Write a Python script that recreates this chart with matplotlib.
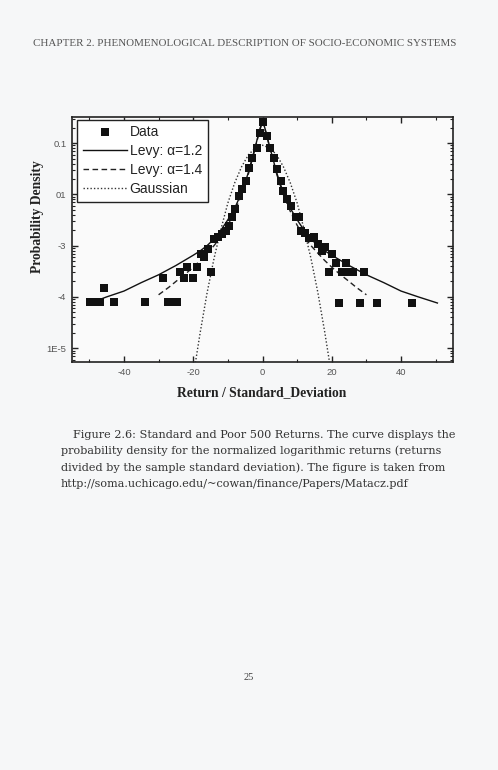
import matplotlib
matplotlib.use("Agg")
import matplotlib.pyplot as plt
from matplotlib.ticker import FixedLocator, MultipleLocator, LogLocator, NullFormatter

# S&P 500 normalized returns
data_x = [-49.9, -48.3, -46.8, -45.8, -42.8, -33.8, -28.8, -27.2, -25.7, -24.6,
          -23.8, -22.8, -21.9, -20.1, -19.0, -17.8, -16.9, -15.7, -14.8, -14.0,
          -12.9, -11.7, -10.6, -9.7, -8.7, -7.8, -6.8, -5.8, -4.8, -3.9,
          -2.9, -1.7, -0.8, 0.2, 1.3, 2.3, 3.3, 4.2, 5.2, 5.9,
          7.1, 8.1, 9.8, 10.5, 11.2, 12.3, 13.3, 15.0, 16.1, 17.2,
          18.1, 19.1, 20.1, 21.1, 22.0, 23.0, 24.2, 24.6, 26.1, 28.2,
          29.2, 33.1, 43.1]
data_y = [7.8e-5, 7.8e-5, 7.8e-5, 1.5e-4, 7.8e-5, 7.8e-5, 2.3e-4, 7.8e-5, 7.8e-5, 7.8e-5,
          3.1e-4, 2.3e-4, 3.9e-4, 2.3e-4, 3.9e-4, 6.9e-4, 5.9e-4, 8.5e-4, 3.0e-4, 1.35e-3,
          1.45e-3, 1.7e-3, 1.95e-3, 2.4e-3, 3.7e-3, 5.1e-3, 9.1e-3, 0.0129, 0.018, 0.033,
          0.051, 0.079, 0.155, 0.257, 0.138, 0.079, 0.052, 0.032, 0.018, 0.0117,
          8.3e-3, 6.0e-3, 3.6e-3, 3.6e-3, 1.95e-3, 1.8e-3, 1.4e-3, 1.5e-3, 1.07e-3, 7.8e-4,
          9.3e-4, 3.0e-4, 6.9e-4, 4.5e-4, 7.6e-5, 3.0e-4, 4.5e-4, 3.0e-4, 3.0e-4, 7.6e-5,
          3.0e-4, 7.6e-5, 7.6e-5]

# fitted curves
levy12_x = [-47, -45, -40, -35, -30, -25, -20, -18, -16, -14, -12, -10, -8, -6, -5,
            -4, -3, -2, -1, 0, 1, 2, 3, 4, 5, 6, 8, 10, 12, 14, 16, 18, 20,
            25, 30, 35, 40, 45, 50.5]
levy12_y = [8.9e-5, 1.0e-4, 1.3e-4, 1.9e-4, 2.7e-4, 4.1e-4, 6.5e-4, 7.9e-4, 1.0e-3,
            1.35e-3, 2.0e-3, 3.2e-3, 5.4e-3, 0.011, 0.017, 0.028, 0.050, 0.089, 0.166,
            0.282, 0.166, 0.089, 0.050, 0.028, 0.017, 0.011, 5.4e-3, 3.2e-3, 2.0e-3,
            1.35e-3, 1.0e-3, 7.9e-4, 6.5e-4, 4.1e-4, 2.7e-4, 1.9e-4, 1.3e-4, 1.0e-4, 7.6e-5]

levy14_x = [-30, -27, -25, -22, -20, -18, -16, -14, -12, -10, -8, -6, -5, -4, -3,
            -2, -1, 0, 1, 2, 3, 4, 5, 6, 8, 10, 12, 14, 16, 18, 20, 22, 25, 27, 30]
levy14_y = [1.1e-4, 1.55e-4, 2.0e-4, 2.9e-4, 3.8e-4, 5.1e-4, 7.1e-4, 1.0e-3, 1.5e-3,
            2.5e-3, 4.7e-3, 0.010, 0.016, 0.026, 0.047, 0.085, 0.158, 0.263,
            0.158, 0.085, 0.047, 0.026, 0.016, 0.010, 4.7e-3, 2.5e-3, 1.5e-3, 1.0e-3,
            7.1e-4, 5.1e-4, 3.8e-4, 2.9e-4, 2.0e-4, 1.55e-4, 1.1e-4]

gauss_x = [-20, -18, -16, -14, -12, -10, -8, -6, -4, -2, 0,
           2, 4, 6, 8, 10, 12, 14, 16, 18, 20]
gauss_y = [2.8e-6, 2.0e-5, 1.2e-4, 5.6e-4, 2.1e-3, 6.8e-3, 0.017, 0.035, 0.060, 0.081, 0.091,
           0.081, 0.060, 0.035, 0.017, 6.8e-3, 2.1e-3, 5.6e-4, 1.2e-4, 2.0e-5, 2.8e-6]

ytick_vals = [0.1, 0.01, 1e-3, 1e-4, 1e-5]
ytick_text = ["0.1", "01", "-3", "-4", "1E-5"]
xtick_vals = [-40, -20, 0, 20, 40]

header = "CHAPTER 2. PHENOMENOLOGICAL DESCRIPTION OF SOCIO-ECONOMIC SYSTEMS"
caption = ["Figure 2.6: Standard and Poor 500 Returns. The curve displays the",
           "probability density for the normalized logarithmic returns (returns",
           "divided by the sample standard deviation). The figure is taken from",
           "http://soma.uchicago.edu/~cowan/finance/Papers/Matacz.pdf"]
page_no = "25"

PAPER = "#f6f7f8"
SERIF = ["Liberation Serif", "DejaVu Serif"]
WIDE_SERIF = ["DejaVu Serif"]
SANS = ["Liberation Sans", "DejaVu Sans"]

plt.rcParams["axes.unicode_minus"] = False


def draw_chart(fig):
    ax = fig.add_axes([72 / 498, 1 - 362 / 770, 381 / 498, 245 / 770])
    ax.set_facecolor("#fafafa")
    ax.set_yscale("log")
    ax.set_xlim(-55, 55)
    ax.set_ylim(10 ** -5.27, 10 ** -0.49)

    ax.plot(gauss_x, gauss_y, color="#333333", lw=1.0, ls=(0, (1, 1.5)), label="Gaussian")
    ax.plot(levy14_x, levy14_y, color="#222222", lw=1.0, ls=(0, (4, 2.5)),
            label="Levy: α=1.4")
    ax.plot(levy12_x, levy12_y, color="#111111", lw=1.0, label="Levy: α=1.2")
    ax.plot(data_x, data_y, ls="none", marker="s", ms=5.6, mew=0, color="#111111",
            label="Data")

    # legend in the original order
    handles, labels = ax.get_legend_handles_labels()
    order = [3, 2, 1, 0]
    leg = ax.legend([handles[i] for i in order], [labels[i] for i in order],
                    loc="upper left", bbox_to_anchor=(0.013, 0.988), borderaxespad=0,
                    fancybox=False, framealpha=1, edgecolor="#222222",
                    handlelength=3.2, handletextpad=0.2, labelspacing=0.35,
                    borderpad=0.4, prop={"family": SANS, "size": 10})
    leg.get_frame().set_linewidth(1.0)
    for t in leg.get_texts():
        t.set_color("#222222")

    ax.xaxis.set_major_locator(FixedLocator(xtick_vals))
    ax.xaxis.set_minor_locator(MultipleLocator(10))
    ax.yaxis.set_major_locator(FixedLocator(ytick_vals))
    ax.yaxis.set_minor_locator(LogLocator(base=10, subs=range(2, 10), numticks=20))
    ax.yaxis.set_minor_formatter(NullFormatter())
    ax.set_yticklabels(ytick_text)
    ax.tick_params(which="both", direction="in", top=True, right=True,
                   colors="#222222", labelcolor="#555555", labelsize=6.8, pad=4)
    ax.tick_params(which="major", length=4, width=1)
    ax.tick_params(which="minor", length=2.5, width=0.8)
    for lab in ax.get_xticklabels() + ax.get_yticklabels():
        lab.set_family(SANS)
    for s in ax.spines.values():
        s.set_linewidth(1.2)
        s.set_color("#222222")

    fig.text(262 / 498, 1 - 393 / 770, "Return / Standard_Deviation", ha="center",
             va="center", family=SERIF, weight="bold", size=9.8, color="#222222")
    fig.text(38 / 498, 1 - 217 / 770, "Probability Density", ha="center", va="center",
             rotation=90, family=SERIF, weight="bold", size=9.8, color="#222222")


def main():
    fig = plt.figure(figsize=(4.98, 7.70), dpi=100, facecolor=PAPER)
    fig.text(245 / 498, 1 - 43 / 770, header, ha="center", va="center",
             family=SERIF, size=7.9, color="#555555")
    draw_chart(fig)

    for i, line in enumerate(caption):
        x = 73 if i == 0 else 61
        fig.text(x / 498, 1 - (435 + 16.2 * i) / 770, line, ha="left", va="center",
                 family=WIDE_SERIF, size=8.1, color="#333333")
    fig.text(249 / 498, 1 - 678 / 770, page_no, ha="center", va="center",
             family=SERIF, size=7.5, color="#444444")

    fig.savefig("out.png", dpi=100, facecolor=PAPER)


if __name__ == '__main__':
    main()
